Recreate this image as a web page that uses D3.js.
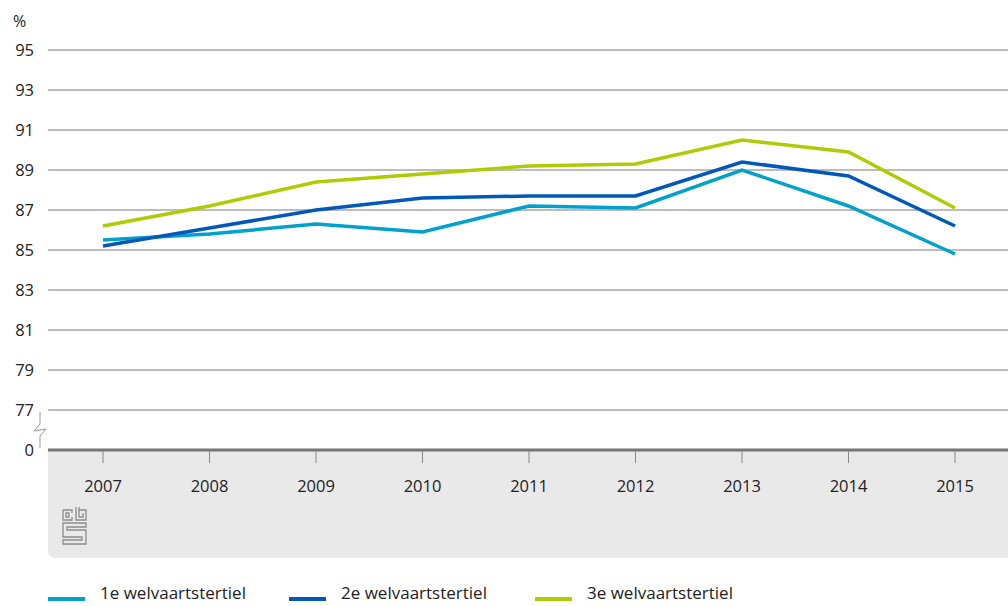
<!DOCTYPE html>
<html>
<head>
<meta charset="utf-8">
<script src="https://cdn.jsdelivr.net/npm/d3@7"></script>
<style>
  body { margin: 0; background: #fff; }
  text { font-family: "Open Sans", "Noto Sans", sans-serif; }
</style>
</head>
<body>
<svg id="chart" width="1008" height="606"></svg>
<script>
// data
var years = [2007, 2008, 2009, 2010, 2011, 2012, 2013, 2014, 2015];
var tertiel1 = [85.5, 85.8, 86.3, 85.9, 87.2, 87.1, 89.0, 87.2, 84.8];
var tertiel2 = [85.2, 86.1, 87.0, 87.6, 87.7, 87.7, 89.4, 88.7, 86.2];
var tertiel3 = [86.2, 87.2, 88.4, 88.8, 89.2, 89.3, 90.5, 89.9, 87.1];
var yTicks = [77, 79, 81, 83, 85, 87, 89, 91, 93, 95];
var seriesNames = ["1e welvaartstertiel", "2e  welvaartstertiel", "3e welvaartstertiel"];
var seriesColors = ["#00a1cd", "#0058b8", "#afcb05"];

var svg = d3.select("#chart");
var left = 48, right = 1008;

var x = d3.scalePoint().domain(years).range([103, 955]);
var y = d3.scaleLinear().domain([77, 95]).range([410, 50]);
var zeroY = 450;

// gray band below axis
svg.append("path")
  .attr("d", "M" + left + "," + zeroY + " H" + right + " V558 H" + (left + 8) +
       " Q" + left + ",558 " + left + ",550 Z")
  .attr("fill", "#e9e9e9");

// gridlines
svg.append("g").selectAll("line")
  .data(yTicks)
  .enter().append("line")
  .attr("x1", left).attr("x2", right)
  .attr("y1", function(d) { return y(d); })
  .attr("y2", function(d) { return y(d); })
  .attr("stroke", "#7a7a7a")
  .attr("stroke-width", 1);

// y labels
svg.append("g").selectAll("text")
  .data(yTicks)
  .enter().append("text")
  .attr("x", 34).attr("y", function(d) { return y(d); })
  .attr("dy", "0.35em")
  .attr("text-anchor", "end")
  .attr("font-size", 16.5)
  .attr("fill", "#222")
  .text(function(d) { return d; });

svg.append("text")
  .attr("x", 34).attr("y", zeroY).attr("dy", "0.35em")
  .attr("text-anchor", "end").attr("font-size", 16.5).attr("fill", "#222")
  .text("0");

svg.append("text")
  .attr("x", 13).attr("y", 21).attr("dy", "0.35em")
  .attr("font-size", 16).attr("fill", "#222")
  .text("%");

// axis break
svg.append("path")
  .attr("d", "M40,412 V424 L34,431 L46,429 L40,436 V448")
  .attr("fill", "none").attr("stroke", "#999").attr("stroke-width", 1);

// zero axis line
svg.append("line")
  .attr("x1", left).attr("x2", right)
  .attr("y1", zeroY).attr("y2", zeroY)
  .attr("stroke", "#777").attr("stroke-width", 3);

// x ticks + labels
var xg = svg.append("g").selectAll("g")
  .data(years)
  .enter().append("g")
  .attr("transform", function(d) { return "translate(" + x(d) + ",0)"; });
xg.append("line")
  .attr("y1", zeroY).attr("y2", zeroY + 13)
  .attr("stroke", "#888").attr("stroke-width", 1);
xg.append("text")
  .attr("y", 486).attr("dy", "0.35em")
  .attr("text-anchor", "middle")
  .attr("font-size", 16.5).attr("fill", "#222")
  .text(function(d) { return d; });

// cbs logo (simplified)
var logo = svg.append("g").attr("transform", "translate(62,507)")
  .attr("fill", "none").attr("stroke", "#8c8c8c").attr("stroke-width", 1.3);
logo.append("path").attr("d", "M1,3 H10 V6 M1,3 V13 H10 V10 M4,6 H7 V10 H4 Z");
logo.append("path").attr("d", "M14,0 V13 H24 V3 H17 M17,0 V10 H21 V6");
logo.append("path").attr("d", "M1,16 H24 V20 H5 V23 H24 V37 H1 V33 H20 V30 H1 Z");

// lines
var allSeries = [tertiel1, tertiel2, tertiel3];
var line = d3.line()
  .x(function(d, i) { return x(years[i]); })
  .y(function(d) { return y(d); });

svg.append("g").selectAll("path")
  .data(allSeries)
  .enter().append("path")
  .attr("d", line)
  .attr("fill", "none")
  .attr("stroke", function(d, i) { return seriesColors[i]; })
  .attr("stroke-width", 3.5);

// legend
var legendX = [48, 289, 535];
var lg = svg.append("g").selectAll("g")
  .data(seriesNames)
  .enter().append("g")
  .attr("transform", function(d, i) { return "translate(" + legendX[i] + ",599)"; });
lg.append("line")
  .attr("x1", 0).attr("x2", 37)
  .attr("stroke", function(d, i) { return seriesColors[i]; })
  .attr("stroke-width", 4);
lg.append("text")
  .attr("x", 52).attr("y", 0)
  .attr("font-size", 17).attr("fill", "#222")
  .text(function(d) { return d; });
</script>
</body>
</html>
